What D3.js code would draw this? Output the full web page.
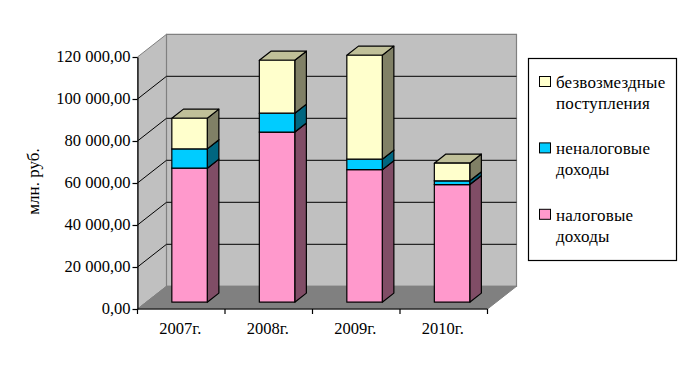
<!DOCTYPE html>
<html>
<head>
<meta charset="utf-8">
<script src="https://cdn.jsdelivr.net/npm/d3@7"></script>
<style>
  html, body { margin: 0; padding: 0; background: #fff; }
  text { font-family: "Liberation Serif", serif; fill: #000; }
</style>
</head>
<body>
<svg id="canvas"></svg>
<script>
const categories = ["2007г.", "2008г.", "2009г.", "2010г."];
const nalogovye = [63800, 81000, 63100, 56000];
const nenalogovye = [9200, 9000, 5000, 1800];
const bezvozmezdnye = [14600, 25200, 49500, 8400];
const yTicks = [0, 20000, 40000, 60000, 80000, 100000, 120000];
const legendLabels = [
    ["безвозмездные", "поступления"],
    ["неналоговые", "доходы"],
    ["налоговые", "доходы"]
];

const width = 687, height = 374;
const svg = d3.select("#canvas").attr("width", width).attr("height", height);
svg.style("display", "block");

// front plane of the 3d box
const marginLeft = 137.5, marginRight = 199.5, marginTop = 57, marginBottom = 65;
// how far the back wall sits from the front plane
const depthX = 29, depthY = -22.7;

const x = d3.scaleBand()
    .domain(categories)
    .range([marginLeft, width - marginRight])
    .paddingInner(0.595)
    .paddingOuter(0.2975);

const y = d3.scaleLinear()
    .domain([0, 120000])
    .range([height - marginBottom, marginTop]);

const locale = d3.formatLocale({ decimal: ",", thousands: " ", grouping: [3], currency: ["", ""] });
const fmt = locale.format(",.2f");

// px, py give the point at depth z (0 front, 1 back)
const px = (v, z) => v + depthX * z;
const py = (v, z) => v + depthY * z;
const poly = pts => "M" + pts.map(p => p.join(",")).join("L") + "Z";

const x0 = marginLeft, x1 = width - marginRight;
const y0 = y(0), yTop = y(120000);

// walls and floor
svg.append("path")
    .attr("d", poly([[x0, y0], [px(x0, 1), py(y0, 1)], [px(x0, 1), py(yTop, 1)], [x0, yTop]]))
    .attr("fill", "#c0c0c0").attr("stroke", "#808080");
svg.append("path")
    .attr("d", poly([[px(x0, 1), py(y0, 1)], [px(x1, 1), py(y0, 1)], [px(x1, 1), py(yTop, 1)], [px(x0, 1), py(yTop, 1)]]))
    .attr("fill", "#c0c0c0").attr("stroke", "#808080").attr("stroke-width", 1.2);
svg.append("path")
    .attr("d", poly([[x0, y0], [x1, y0], [px(x1, 1), py(y0, 1)], [px(x0, 1), py(y0, 1)]]))
    .attr("fill", "#808080").attr("stroke", "#808080");

// gridlines, left wall then back wall
const gridTicks = yTicks.filter(d => d > 0 && d < 120000);
svg.append("g").selectAll("path")
    .data(gridTicks)
    .join("path")
    .attr("d", d => `M${x0},${y(d)}L${px(x0, 1)},${py(y(d), 1)}L${px(x1, 1)},${py(y(d), 1)}`)
    .attr("fill", "none")
    .attr("stroke", "#000")
    .attr("stroke-width", 1);

// bars
const keys = ["nalogovye", "nenalogovye", "bezvozmezdnye"];
const rows = categories.map((c, i) => ({
    cat: c,
    nalogovye: nalogovye[i],
    nenalogovye: nenalogovye[i],
    bezvozmezdnye: bezvozmezdnye[i]
}));
const series = d3.stack().keys(keys)(rows);

const front = { nalogovye: "#ff99cc", nenalogovye: "#00ccff", bezvozmezdnye: "#ffffcc" };
const side = { nalogovye: "#804d66", nenalogovye: "#006680", bezvozmezdnye: "#808066" };
const top_ = { nalogovye: "#c07399", nenalogovye: "#0099c0", bezvozmezdnye: "#c0c099" };

const zFront = 0.3, zBack = 0.7;
const bw = x.bandwidth();

rows.forEach((row, i) => {
    const g = svg.append("g");
    series.forEach((layer, k) => {
        const key = layer.key;
        const d = layer[i];
        const l = px(x(row.cat), zFront) - 0.4, r = l + bw;
        const dx = depthX * (zBack - zFront), dy = depthY * (zBack - zFront);
        const b = py(y(d[0]), zFront), t = py(y(d[1]), zFront);

        g.append("path")
            .attr("d", poly([[r, b], [r + dx, b + dy], [r + dx, t + dy], [r, t]]))
            .attr("fill", side[key]).attr("stroke", "#000").attr("stroke-width", 1.2)
            .attr("stroke-linejoin", "round");
        g.append("path")
            .attr("d", poly([[l, t], [r, t], [r + dx, t + dy], [l + dx, t + dy]]))
            .attr("fill", top_[key]).attr("stroke", "#000").attr("stroke-width", 1.2)
            .attr("stroke-linejoin", "round");
        g.append("path")
            .attr("d", poly([[l, b], [r, b], [r, t], [l, t]]))
            .attr("fill", front[key]).attr("stroke", "#000").attr("stroke-width", 1.2)
            .attr("stroke-linejoin", "round");
    });
});

// y axis
const yAxis = d3.axisLeft(y).tickValues(yTicks).tickFormat(fmt).tickSize(5).tickSizeOuter(0);
const yG = svg.append("g").attr("transform", `translate(${x0},0)`).call(yAxis);
yG.selectAll("path.domain").attr("stroke", "#000").attr("stroke-width", 1.2);
yG.selectAll("line").attr("stroke", "#000").attr("stroke-width", 1.2);
yG.selectAll("text")
    .attr("x", -7)
    .attr("y", -1)
    .attr("font-size", 16.5)
    .style("font-family", '"Liberation Serif", serif')
    .attr("fill", "#000");

// x axis, ticks sit between the categories
svg.append("line")
    .attr("x1", x0).attr("x2", x1).attr("y1", y0).attr("y2", y0)
    .attr("stroke", "#000").attr("stroke-width", 1.2);
const step = x.step();
svg.append("g").selectAll("line")
    .data(d3.range(categories.length + 1))
    .join("line")
    .attr("x1", i => x0 + i * step)
    .attr("x2", i => x0 + i * step)
    .attr("y1", y0)
    .attr("y2", y0 + 5)
    .attr("stroke", "#000").attr("stroke-width", 1.2);
svg.append("g").selectAll("text")
    .data(categories)
    .join("text")
    .attr("x", d => x(d) + bw / 2 - 1)
    .attr("y", 333.5)
    .attr("text-anchor", "middle")
    .attr("font-size", 16.5)
    .text(d => d);

// y title
svg.append("text")
    .attr("transform", "translate(38.5,181.5) rotate(-90)")
    .attr("text-anchor", "middle")
    .attr("font-size", 17)
    .text("млн. руб.");

// legend
svg.append("rect")
    .attr("x", 528.5).attr("y", 58.5).attr("width", 148).attr("height", 202)
    .attr("fill", "#fff").attr("stroke", "#000").attr("stroke-width", 1.2);

const legendKeys = ["bezvozmezdnye", "nenalogovye", "nalogovye"];
const legend = svg.selectAll(".legend")
    .data(legendKeys)
    .join("g")
    .attr("class", "legend")
    .attr("transform", (d, i) => `translate(0,${i * 66.4})`);
legend.append("rect")
    .attr("x", 539.5).attr("y", 76.5).attr("width", 11).attr("height", 10)
    .attr("fill", d => front[d]).attr("stroke", "#000").attr("stroke-width", 1);
legend.each(function (d, i) {
    d3.select(this).selectAll("text")
        .data(legendLabels[i])
        .join("text")
        .attr("x", 556)
        .attr("y", (t, j) => 88 + j * 21)
        .attr("font-size", 17)
        .attr("letter-spacing", 0.15)
        .text(t => t);
});
</script>
</body>
</html>
